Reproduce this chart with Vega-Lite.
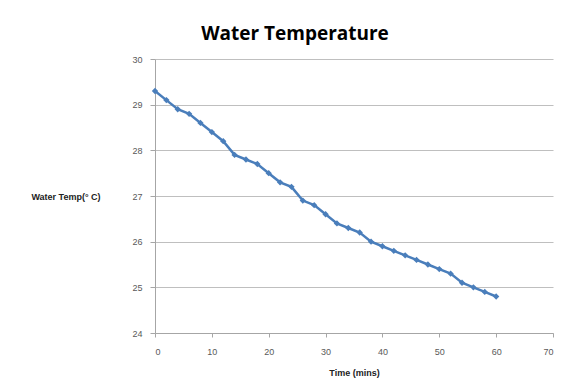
{
  "$schema": "https://vega.github.io/schema/vega-lite/v6.json",
  "autosize": "none",
  "width": 398,
  "height": 274,
  "padding": {"left": 155, "top": 59, "right": 12, "bottom": 52},
  "background": "white",
  "title": {
    "text": "Water Temperature",
    "anchor": "middle",
    "dx": -59,
    "offset": 11,
    "fontSize": 19,
    "fontWeight": "bold",
    "font": "Open Sans",
    "color": "#000000"
  },
  "config": {
    "view": {"stroke": null},
    "axis": {
      "labelFont": "Liberation Sans",
      "labelFontSize": 9,
      "labelColor": "#595959",
      "titleFont": "Liberation Sans",
      "titleFontSize": 9,
      "titleFontWeight": "bold",
      "titleColor": "#222222",
      "domainColor": "#a6a6a6",
      "tickColor": "#a6a6a6",
      "gridColor": "#bfbfbf"
    }
  },
  "data": {
    "values": [
      {"time": 0, "temp": 29.3},
      {"time": 2, "temp": 29.1},
      {"time": 4, "temp": 28.9},
      {"time": 6, "temp": 28.8},
      {"time": 8, "temp": 28.6},
      {"time": 10, "temp": 28.4},
      {"time": 12, "temp": 28.2},
      {"time": 14, "temp": 27.9},
      {"time": 16, "temp": 27.8},
      {"time": 18, "temp": 27.7},
      {"time": 20, "temp": 27.5},
      {"time": 22, "temp": 27.3},
      {"time": 24, "temp": 27.2},
      {"time": 26, "temp": 26.9},
      {"time": 28, "temp": 26.8},
      {"time": 30, "temp": 26.6},
      {"time": 32, "temp": 26.4},
      {"time": 34, "temp": 26.3},
      {"time": 36, "temp": 26.2},
      {"time": 38, "temp": 26.0},
      {"time": 40, "temp": 25.9},
      {"time": 42, "temp": 25.8},
      {"time": 44, "temp": 25.7},
      {"time": 46, "temp": 25.6},
      {"time": 48, "temp": 25.5},
      {"time": 50, "temp": 25.4},
      {"time": 52, "temp": 25.3},
      {"time": 54, "temp": 25.1},
      {"time": 56, "temp": 25.0},
      {"time": 58, "temp": 24.9},
      {"time": 60, "temp": 24.8}
    ]
  },
  "mark": {
    "type": "line",
    "color": "#4a7ebb",
    "strokeWidth": 2.5,
    "point": {"shape": "diamond", "size": 40, "filled": true, "color": "#4a7ebb"}
  },
  "encoding": {
    "x": {
      "field": "time",
      "type": "quantitative",
      "scale": {"domain": [0, 70], "nice": false},
      "axis": {
        "values": [0, 10, 20, 30, 40, 50, 60, 70],
        "grid": false,
        "title": "Time (mins)",
        "titlePadding": 12,
        "tickSize": 4,
        "labelPadding": 10
      }
    },
    "y": {
      "field": "temp",
      "type": "quantitative",
      "scale": {"domain": [24, 30], "nice": false, "zero": false},
      "axis": {
        "values": [24, 25, 26, 27, 28, 29, 30],
        "title": "Water Temp(° C)",
        "titleAngle": 0,
        "titleAlign": "right",
        "titleBaseline": "middle",
        "titleX": -55,
        "titleY": 137,
        "tickSize": 5,
        "labelPadding": 8
      }
    }
  }
}
